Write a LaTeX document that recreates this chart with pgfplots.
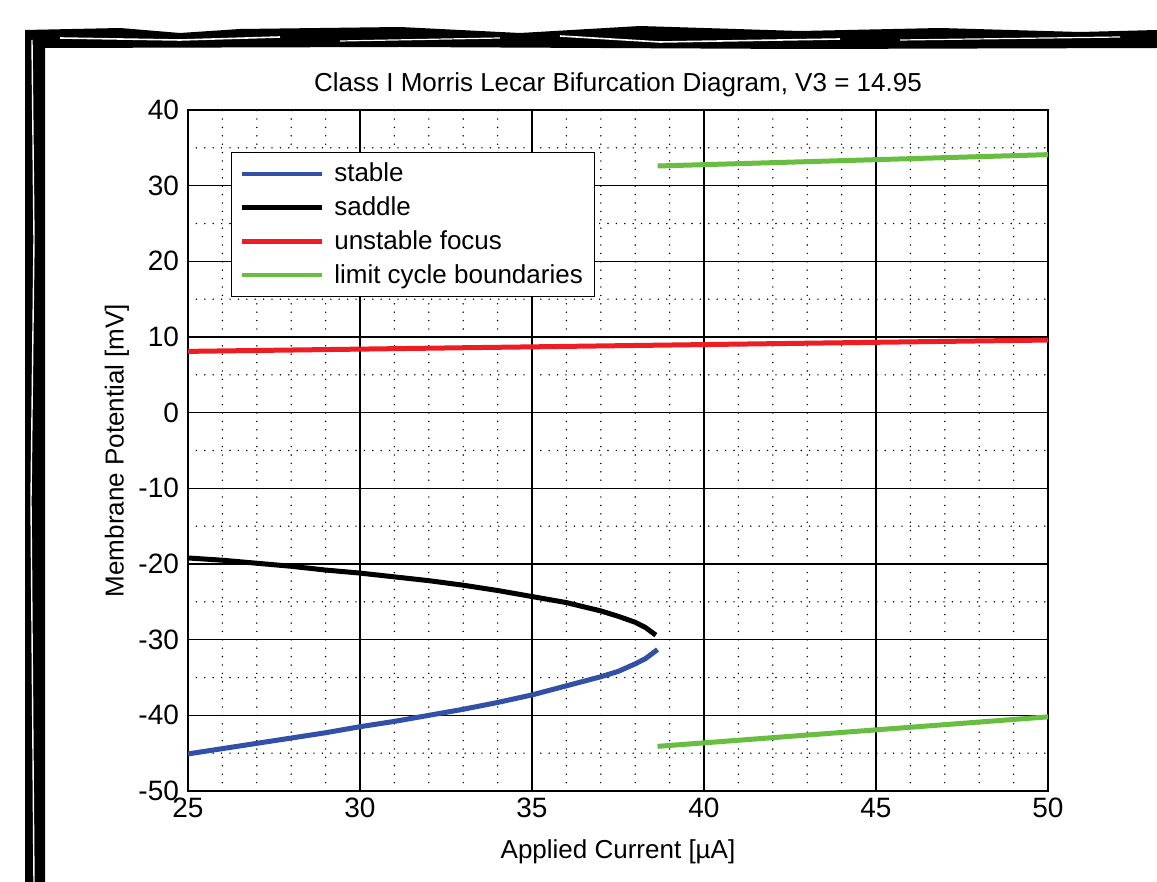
\documentclass[border=0pt]{standalone}
\usepackage{fontspec}
\setmainfont{Liberation Sans}
\usepackage{pgfplots}
\pgfplotsset{compat=1.18}
\definecolor{stablec}{RGB}{50,80,168}
\definecolor{focusc}{RGB}{236,30,36}
\definecolor{cyclec}{RGB}{104,190,64}
\begin{document}
\begin{tikzpicture}
\fill[white] (0,0) rectangle (578.5pt,-441pt);
\useasboundingbox (0,0) rectangle (578.5pt,-441pt);
% sketchy frame
\fill[black] (12.5pt,-15pt) -- (60pt,-14pt) -- (90pt,-16.5pt) -- (120pt,-14.5pt) -- (200pt,-13.5pt) -- (260pt,-16.5pt) -- (320pt,-13pt) -- (400pt,-15.5pt) -- (470pt,-14pt) -- (540pt,-16pt) -- (578.5pt,-15pt)
  -- (578.5pt,-24pt) -- (400pt,-24.5pt) -- (200pt,-23.5pt) -- (22.5pt,-24pt) -- (22.5pt,-441pt) -- (12.5pt,-441pt) -- cycle;
\draw[white,line width=0.8pt] (30pt,-19pt) -- (90pt,-20pt) -- (140pt,-18.5pt);
\draw[white,line width=0.6pt] (170pt,-20.5pt) -- (250pt,-19pt);
\draw[white,line width=0.8pt] (280pt,-18pt) -- (330pt,-21pt) -- (420pt,-19.5pt);
\draw[white,line width=0.6pt] (450pt,-20pt) -- (560pt,-18.5pt);
\draw[white,line width=0.7pt] (16pt,-20pt) -- (17pt,-120pt) -- (15.5pt,-250pt) -- (17pt,-441pt);
\begin{axis}[
  at={(94pt,-395.5pt)}, anchor=south west,
  scale only axis, width=430pt, height=340.5pt,
  xmin=25, xmax=50, ymin=-50, ymax=40,
  xtick={25,30,...,50}, ytick={-50,-40,...,40},
  minor x tick num=4, minor y tick num=1,
  grid=both,
  major grid style={black, line width=0.6pt},
  minor grid style={black, line width=0.8pt, dash pattern=on 0pt off 4.2pt, line cap=round},
  axis line style={black, line width=0.8pt},
  tick style={black}, major tick length=0pt, minor tick length=0pt,
  /pgf/number format/assume math mode=true,
  tick label style={font=\fontsize{14}{16}\selectfont},
  yticklabel style={xshift=-1pt},
  title={Class I Morris Lecar Bifurcation Diagram, V3 = 14.95},
  every axis title/.style={at={(0.5,1.0367)}, anchor=center, font=\fontsize{13}{15}\selectfont},
  xlabel={Applied Current [µA]},
  ylabel={Membrane Potential [mV]},
  every axis x label/.style={at={(0.5,-0.0896)}, anchor=center, font=\fontsize{13}{15}\selectfont},
  every axis y label/.style={at={(-0.0826,0.5)}, rotate=90, anchor=center, font=\fontsize{13}{15}\selectfont},
  legend style={at={(0.05,0.938)}, anchor=north west, draw=black, line width=0.6pt,
    font=\fontsize{13}{15}\selectfont, row sep=2pt, inner xsep=4pt, inner ysep=3pt},
  legend cell align=left,
  legend image code/.code={\draw[#1, line width=2.2pt] (0pt,0pt) -- (40pt,0pt); \path (43pt,0pt);},
]
\addplot[stablec, line width=2.5pt] coordinates {
(25,-45.1) (26,-44.4) (27,-43.7) (28,-43.0) (29,-42.3) (30,-41.5) (31,-40.8) (32,-40.0)
(33,-39.2) (34,-38.3) (35,-37.3) (36,-36.1) (37,-34.9) (37.5,-34.2) (38,-33.2) (38.3,-32.5) (38.65,-31.3)};
\addlegendentry{stable}
\addplot[black, line width=2.5pt] coordinates {
(25,-19.2) (26,-19.5) (27,-19.9) (28,-20.3) (29,-20.8) (30,-21.2) (31,-21.7) (32,-22.2)
(33,-22.8) (34,-23.5) (35,-24.3) (36,-25.1) (37,-26.2) (37.5,-26.9) (38,-27.7) (38.3,-28.4) (38.6,-29.4)};
\addlegendentry{saddle}
\addplot[focusc, line width=2.5pt] coordinates {(25,8.1) (35,8.7) (50,9.6)};
\addlegendentry{unstable focus}
\addplot[cyclec, line width=2.5pt] coordinates {(38.65,32.6) (50,34.1)};
\addlegendentry{limit cycle boundaries}
\addplot[cyclec, line width=2.5pt, forget plot] coordinates {(38.65,-44.1) (50,-40.2)};
\end{axis}
\end{tikzpicture}
\end{document}
